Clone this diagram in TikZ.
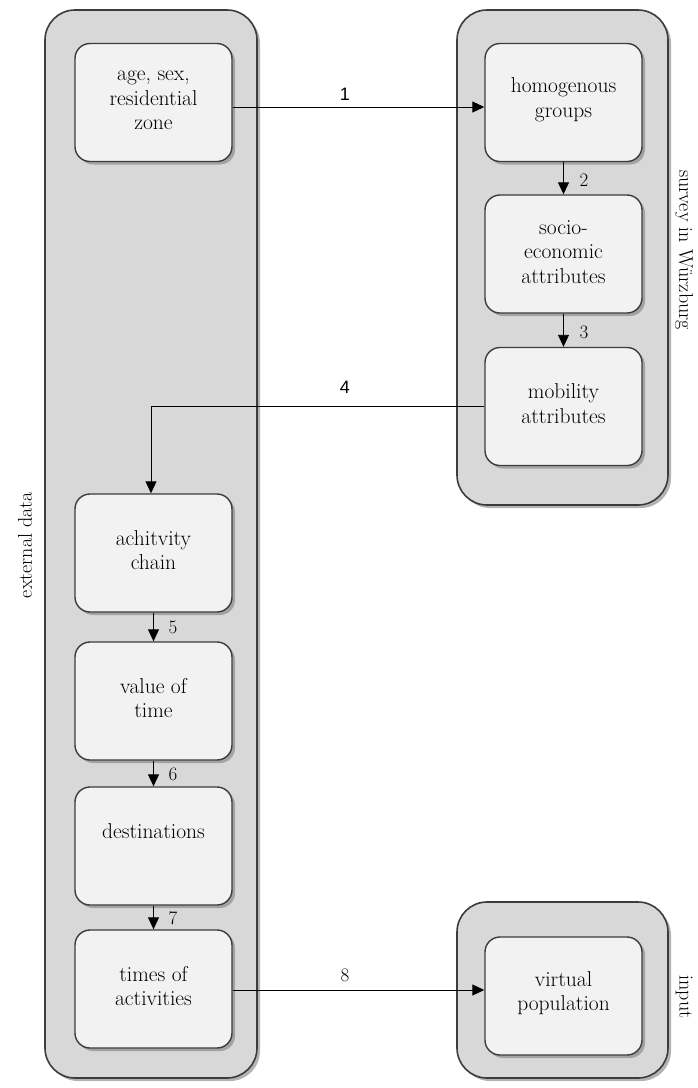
\documentclass[tikz,border=0pt]{standalone}
\usepackage{fontspec}
\newfontfamily\numsans{Liberation Sans}
\usetikzlibrary{arrows.meta,shadows}
\definecolor{contfill}{HTML}{D8D8D8}
\definecolor{boxfill}{HTML}{F2F2F2}
\definecolor{edge}{HTML}{3C3C3C}
\begin{document}
\begin{tikzpicture}[x=1pt,y=-1pt,
  container/.style={draw=edge, line width=1.6pt, fill=contfill, rounded corners=30pt,
    drop shadow={shadow xshift=3pt, shadow yshift=-3pt, opacity=0.6}},
  stepbox/.style={draw=edge, line width=1.4pt, fill=boxfill, rounded corners=15pt,
    minimum width=157pt, minimum height=118pt, inner sep=0pt, align=center,
    font=\fontsize{21.5}{24.5}\selectfont,
    drop shadow={shadow xshift=3pt, shadow yshift=-3pt, opacity=0.6}},
  conn/.style={line width=0.9pt, -{Triangle[length=12pt,width=11pt]}},
  numlab/.style={font=\fontsize{19}{19}\selectfont, inner sep=0pt},
  numsanslab/.style={font=\numsans\fontsize{18}{18}\selectfont, inner sep=0pt},
  sidelab/.style={font=\fontsize{20}{20}\selectfont, inner sep=0pt}
]
\useasboundingbox (0,0) rectangle (697,1088);
% containers
\node[container, minimum width=212pt, minimum height=1068pt, inner sep=0pt] (extc) at (151,544) {};
\node[container, minimum width=211pt, minimum height=495pt, inner sep=0pt] (survc) at (562.5,257.5) {};
\node[container, minimum width=211pt, minimum height=176pt, inner sep=0pt] (inpc) at (562.5,990) {};
% side labels
\node[sidelab, rotate=90] (extlab) at (25,545) {external data};
\node[sidelab, rotate=-90] (survlab) at (684,250) {survey in Würzburg};
\node[sidelab, rotate=-90] (inplab) at (684,997) {input};
% boxes
\node[stepbox] (age) at (153.5,102.5) {age, sex,\\residential\\zone\vspace{4pt}};
\node[stepbox] (homog) at (563.5,102.5) {homogenous\\groups\vspace{6pt}};
\node[stepbox] (socio) at (563.5,254) {socio-\\economic\\attributes\vspace{4pt}};
\node[stepbox] (mob) at (563.5,406.5) {mobility\\attributes\vspace{6pt}};
\node[stepbox] (ach) at (153.5,553) {achitvity\\chain\vspace{6pt}};
\node[stepbox] (val) at (153.5,701) {value of\\time\vspace{6pt}};
\node[stepbox] (dest) at (153.5,846) {destinations\\\mbox{}\vspace{6pt}};
\node[stepbox] (times) at (153.5,989) {times of\\activities\vspace{6pt}};
\node[stepbox] (virt) at (563.5,996) {virtual\\population\vspace{6pt}};
% connectors
\draw[conn] ([yshift=-4.5pt]age.east) -- ([yshift=-4.5pt]homog.west);
\draw[conn] (homog.south) -- (socio.north);
\draw[conn] (socio.south) -- (mob.north);
\draw[conn] (mob.west) -| ([xshift=-2.5pt]ach.north);
\draw[conn] (ach.south) -- (val.north);
\draw[conn] (val.south) -- (dest.north);
\draw[conn] (dest.south) -- (times.north);
\draw[conn] ([yshift=-1pt]times.east) -- ([yshift=-1pt]times.east -| virt.west);
% labels
\node[numsanslab] (l1) at (345,94) {1};
\node[numlab] (l2) at (584,180) {2};
\node[numlab] (l3) at (584,332) {3};
\node[numsanslab] (l4) at (345,387) {4};
\node[numlab] (l5) at (173,627) {5};
\node[numlab] (l6) at (173,774) {6};
\node[numlab] (l7) at (173,918) {7};
\node[numlab] (l8) at (345,975) {8};
\end{tikzpicture}
\end{document}
